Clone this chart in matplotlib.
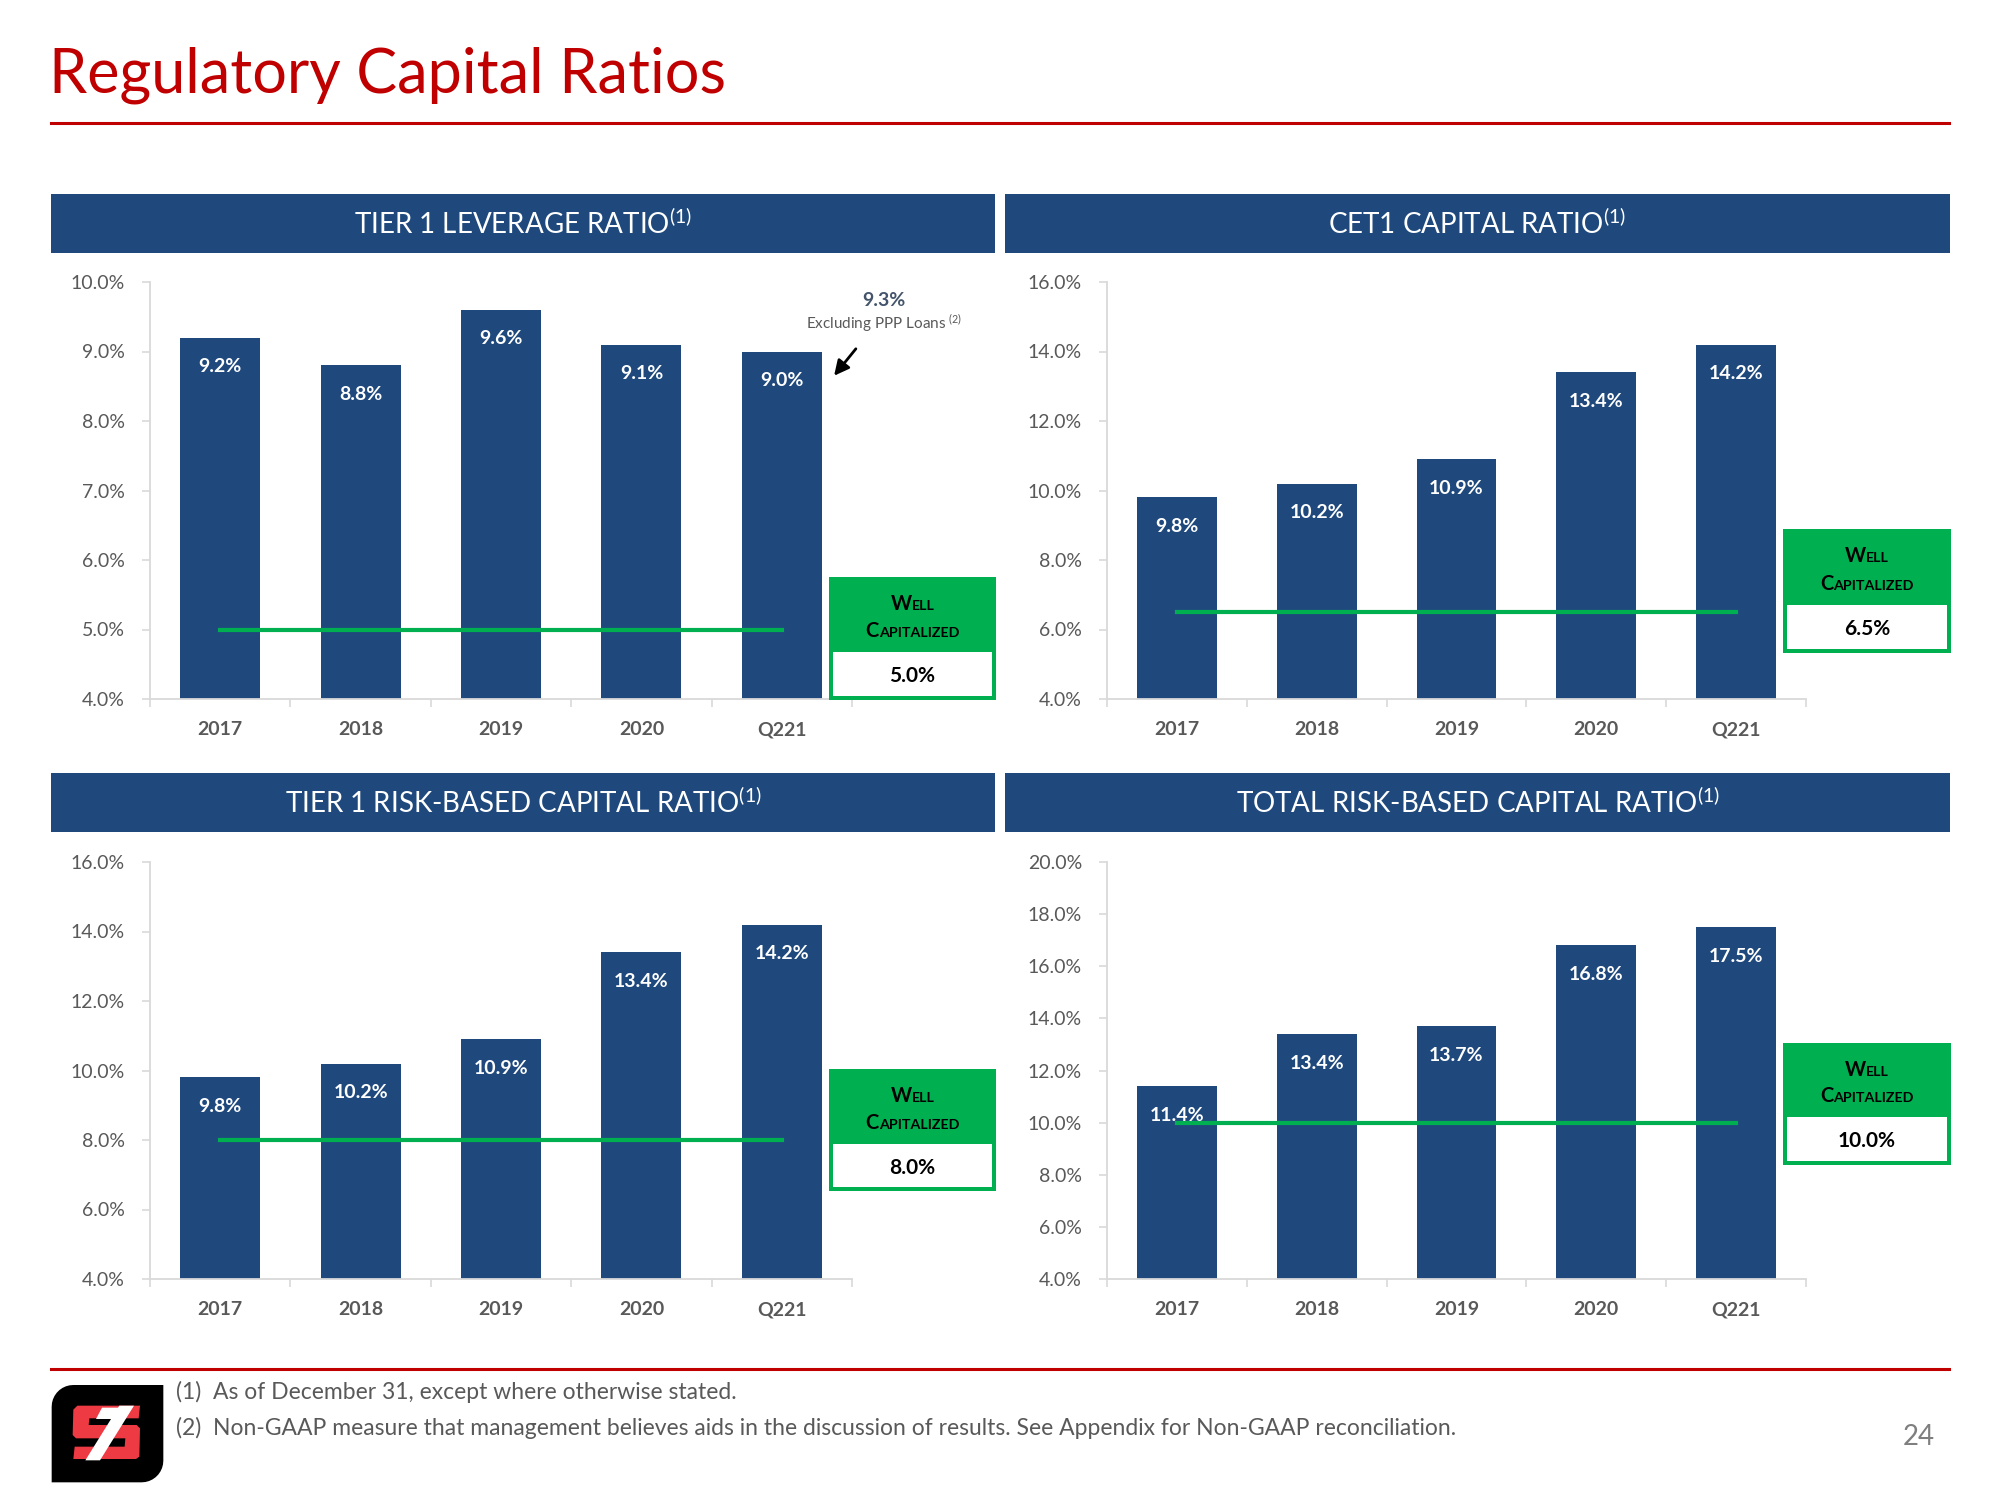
import matplotlib

matplotlib.use("Agg")
import numpy as np
import matplotlib.pyplot as plt
from matplotlib.patches import Rectangle, Polygon
from matplotlib.offsetbox import HPacker, TextArea, AnnotationBbox
from matplotlib.ticker import FixedLocator

plt.rcParams["font.family"] = ["Lato", "DejaVu Sans"]
plt.rcParams["mathtext.fontset"] = "custom"
plt.rcParams["mathtext.rm"] = "Lato"
plt.rcParams["mathtext.bf"] = "Lato:bold"
plt.rcParams["mathtext.it"] = "Lato:italic"

# ---- data ----
categories = ["2017", "2018", "2019", "2020", "Q221"]
tier1_leverage = [9.2, 8.8, 9.6, 9.1, 9.0]
cet1 = [9.8, 10.2, 10.9, 13.4, 14.2]
tier1_rbc = [9.8, 10.2, 10.9, 13.4, 14.2]
total_rbc = [11.4, 13.4, 13.7, 16.8, 17.5]
well_capitalized = [5.0, 6.5, 8.0, 10.0]
panel_titles = [
    "TIER 1 LEVERAGE RATIO",
    "CET1 CAPITAL RATIO",
    "TIER 1 RISK-BASED CAPITAL RATIO",
    "TOTAL RISK-BASED CAPITAL RATIO",
]
y_ranges = [(4, 10, 1), (4, 16, 2), (4, 16, 2), (4, 20, 2)]
ppp_excluded = 9.3
footnotes = [
    "(1)  As of December 31, except where otherwise stated.",
    "(2)  Non-GAAP measure that management believes aids in the discussion of results. "
    "See Appendix for Non-GAAP reconciliation.",
]

BLUE = "#1F497D"
GREEN = "#00B050"
RED = "#C00000"
GRAY = "#595959"
W, H = 2000, 1500


def fx(x):
    return x / W


def fy(y):
    return 1 - y / H


fig = plt.figure(figsize=(20, 15), dpi=100)

# title + rule
fig.text(fx(49), fy(75), "Regulatory Capital Ratios", color=RED, fontsize=44,
         va="center", ha="left")
fig.add_artist(plt.Line2D([fx(51), fx(1949)], [fy(123), fy(123)], color=RED, lw=2.2))

# layout in pixels: header boxes, axes, well-capitalized boxes
headers = [(51, 995, 194, 253), (1005, 1950, 194, 253),
           (51, 995, 773, 832), (1005, 1950, 773, 832)]
axes_px = [(150, 852, 282, 699), (1107, 1806, 282, 699),
           (150, 852, 862, 1279), (1107, 1806, 862, 1279)]
boxes_px = [(829, 996, 577, 652, 700), (1783, 1951, 529, 605, 653),
            (829, 996, 1069, 1144, 1191), (1783, 1951, 1043, 1117, 1165)]
series = [tier1_leverage, cet1, tier1_rbc, total_rbc]


def smallcaps(word, y_center, x_center):
    big = TextArea(word[0], textprops=dict(fontsize=14.5, fontweight="bold", color="black"))
    small = TextArea(word[1:], textprops=dict(fontsize=10.3, fontweight="bold", color="black"))
    pack = HPacker(children=[big, small], align="baseline", pad=0, sep=0)
    ab = AnnotationBbox(pack, (fx(x_center), fy(y_center)), xycoords="figure fraction",
                        box_alignment=(0.5, 0.5), frameon=False)
    fig.add_artist(ab)


for i in range(4):
    # header
    x0, x1, y0, y1 = headers[i]
    fig.add_artist(Rectangle((fx(x0), fy(y1)), fx(x1 - x0), (y1 - y0) / H,
                             transform=fig.transFigure, color=BLUE, lw=0))
    fig.text(fx((x0 + x1) / 2), fy((y0 + y1) / 2), panel_titles[i] + r"$^{(1)}$",
             color="white", fontsize=20, ha="center", va="center")

    # axes
    ax0, ax1, ay0, ay1 = axes_px[i]
    ax = fig.add_axes([fx(ax0), fy(ay1), fx(ax1 - ax0), (ay1 - ay0) / H])
    vals = series[i]
    xs = range(len(categories))
    ax.bar(xs, vals, width=0.57, color=BLUE, zorder=2)
    for x, v in zip(xs, vals):
        ax.annotate(f"{v:.1f}%", (x, v), xytext=(0, -21), textcoords="offset points",
                    ha="center", va="center", color="white", fontsize=14,
                    fontweight="bold", zorder=4)
    lo, hi, step = y_ranges[i]
    ax.set_ylim(lo, hi)
    ax.set_xlim(-0.5, len(categories) - 0.5)
    ticks = [lo + k * step for k in range(int((hi - lo) / step) + 1)]
    ax.set_yticks(ticks)
    ax.set_yticklabels([f"{t:.1f}%" for t in ticks], color=GRAY, fontsize=14)
    ax.set_xticks(list(xs))
    ax.set_xticklabels(categories, color=GRAY, fontsize=14, fontweight="bold")
    ax.xaxis.set_minor_locator(FixedLocator([k - 0.5 for k in range(len(categories) + 1)]))
    ax.tick_params(axis="x", which="major", length=0, pad=16)
    ax.tick_params(axis="x", which="minor", length=6, color="#D9D9D9", width=1.2)
    ax.tick_params(axis="y", length=6, color="#D9D9D9", width=1.2, pad=12)
    for s in ["top", "right"]:
        ax.spines[s].set_visible(False)
    for s in ["left", "bottom"]:
        ax.spines[s].set_color("#D9D9D9")
        ax.spines[s].set_linewidth(1.3)
    ax.plot([0, len(categories) - 1], [well_capitalized[i]] * 2, color=GREEN, lw=3, zorder=3)

    if i == 0:
        ax.text(4.73, 9.73, f"{ppp_excluded:.1f}%", ha="center", va="center",
                fontsize=14, fontweight="bold", color="#44546A")
        ax.text(4.73, 9.41, r"Excluding PPP Loans $^{(2)}$", ha="center", va="center",
                fontsize=11, color=GRAY)
        ax.annotate("", xy=(4.36, 8.62), xytext=(4.54, 9.07),
                    arrowprops=dict(arrowstyle="-|>,head_length=0.9,head_width=0.45",
                                    color="black", lw=2), annotation_clip=False)

    # well-capitalized box
    bx0, bx1, by0, bym, by1 = boxes_px[i]
    fig.add_artist(Rectangle((fx(bx0), fy(by1)), fx(bx1 - bx0), (by1 - by0) / H,
                             transform=fig.transFigure, color=GREEN, lw=0))
    b = 4
    fig.add_artist(Rectangle((fx(bx0 + b), fy(by1 - b)), fx(bx1 - bx0 - 2 * b),
                             (by1 - bym - b) / H, transform=fig.transFigure,
                             color="white", lw=0))
    cx = (bx0 + bx1) / 2
    smallcaps("WELL", by0 + 0.36 * (bym - by0), cx)
    smallcaps("CAPITALIZED", by0 + 0.72 * (bym - by0), cx)
    fig.text(fx(cx), fy((bym + by1) / 2), f"{well_capitalized[i]:.1f}%", ha="center",
             va="center", fontsize=15, fontweight="bold", color="black")

# footer
fig.add_artist(plt.Line2D([fx(51), fx(1949)], [fy(1369), fy(1369)], color=RED, lw=2.2))
fig.text(fx(176), fy(1392), footnotes[0], color=GRAY, fontsize=16.5, va="center")
fig.text(fx(176), fy(1428), footnotes[1], color=GRAY, fontsize=16.5, va="center")
fig.text(fx(1919), fy(1437), "24", color="#7F7F7F", fontsize=20, ha="center", va="center")


# logo, drawn as shapes (coords in a 3x zoom of the corner, origin at 40,1375)
def logo_poly(pts, color):
    xy = [(fx(40 + zx / 3), fy(1375 + zy / 3)) for zx, zy in pts]
    fig.add_artist(Polygon(xy, closed=True, transform=fig.transFigure,
                           facecolor=color, edgecolor="none"))


def arc(cx, cy, r, a0, a1):
    t = np.radians(np.linspace(a0, a1, 10))
    return [(cx + r * np.cos(a), cy + r * np.sin(a)) for a in t]


r = 65
black = ([(370, 30), (370, 322 - r)] + arc(370 - r, 322 - r, r, 0, 90)
         + [(35, 322), (35, 30 + r)] + arc(35 + r, 30 + r, r, 180, 270))
logo_poly(black, "black")
red = "#EE3A43"
logo_poly([(112, 92), (300, 92), (296, 130), (148, 130), (146, 150), (290, 150),
           (300, 160), (298, 245), (288, 252), (100, 252), (104, 215), (254, 215),
           (256, 190), (108, 190), (98, 180), (100, 104)], red)
logo_poly([(238, 92), (282, 92), (180, 256), (136, 256)], "white")
logo_poly([(186, 98), (240, 98), (222, 132), (168, 132)], "white")

fig.savefig("out.png", dpi=100)
